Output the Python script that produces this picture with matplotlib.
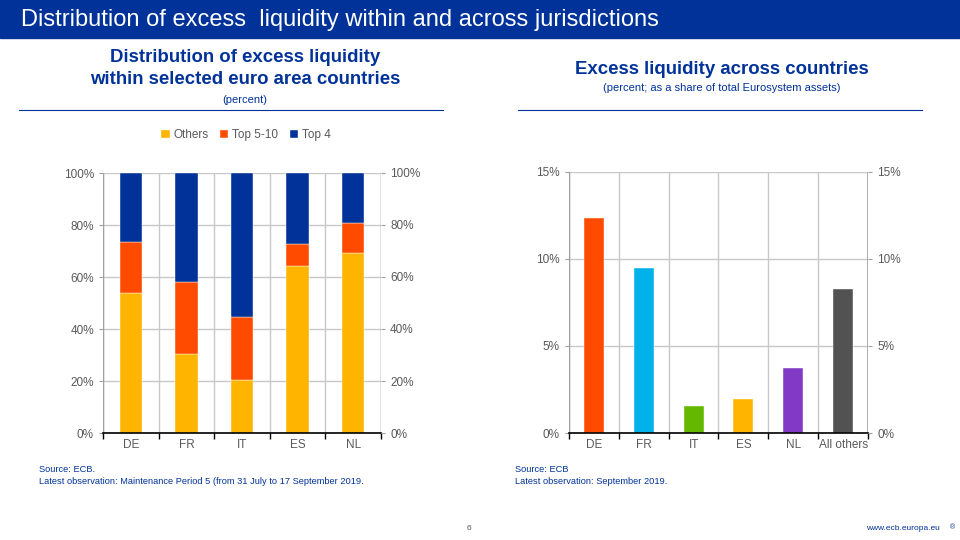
import numpy as np
import matplotlib.pyplot as plt
from matplotlib.ticker import FuncFormatter

# ---------------- data ----------------
paises = ["DE", "FR", "IT", "ES", "NL"]
others = [54.0, 30.4, 20.5, 64.1, 69.4]
top5_10 = [19.5, 27.5, 24.2, 8.6, 11.5]
top4 = [100 - a - b for a, b in zip(others, top5_10)]

paises2 = ["DE", "FR", "IT", "ES", "NL", "All others"]
excesso = [12.35, 9.5, 1.55, 1.97, 3.73, 8.3]
cores2 = ["#FF4B00", "#00B1EA", "#65B800", "#FFB400", "#8139C6", "#525252"]

AZUL = "#003299"
CINZA = "#595959"
GRADE = "#C8C8C8"

plt.rcParams['font.family'] = ['Liberation Sans', 'DejaVu Sans']

fig = plt.figure(figsize=(9.6, 5.4), dpi=100)
W, H = 960, 540

def fx(x): return x / W
def fy(y): return 1 - y / H

# cabeçalho azul
fig.patches.append(plt.Rectangle((0, fy(38)), 1, 38 / H, transform=fig.transFigure,
                                 color=AZUL, zorder=0))
fig.text(fx(21), fy(20), "Distribution of excess  liquidity within and across jurisdictions",
         color="white", fontsize=17, va="center", ha="left")

# títulos
fig.text(fx(245), fy(58), "Distribution of excess liquidity", color=AZUL, fontsize=13.4,
         fontweight="bold", ha="center", va="center")
fig.text(fx(245), fy(80), "within selected euro area countries", color=AZUL, fontsize=13.4,
         fontweight="bold", ha="center", va="center")
fig.text(fx(245), fy(100), "(percent)", color=AZUL, fontsize=8, ha="center", va="center")
fig.add_artist(plt.Line2D([fx(19), fx(443)], [fy(110), fy(110)], color=AZUL, lw=0.8))

fig.text(fx(722), fy(70), "Excess liquidity across countries", color=AZUL, fontsize=13.4,
         fontweight="bold", ha="center", va="center")
fig.text(fx(722), fy(88), "(percent; as a share of total Eurosystem assets)", color=AZUL,
         fontsize=8, ha="center", va="center")
fig.add_artist(plt.Line2D([fx(518), fx(922)], [fy(110), fy(110)], color=AZUL, lw=0.8))

def estilo(ax, n):
    ax.set_xlim(-0.5, n - 0.5)
    for s in ["left", "right", "top"]:
        ax.spines[s].set_visible(False)
    ax.spines["bottom"].set_color("black")
    ax.spines["bottom"].set_linewidth(1.2)
    ax.set_xticks(np.arange(n))
    ax.set_xticks(np.arange(n + 1) - 0.5, minor=True)
    ax.tick_params(axis="x", which="major", length=0, colors=CINZA, labelsize=8.5, pad=4)
    ax.tick_params(axis="x", which="minor", length=4, color="black", width=1)
    ax.tick_params(axis="y", length=3, color="#A0A0A0", colors=CINZA, labelsize=8.5)
    ax.grid(True, which="minor", axis="x", color=GRADE, lw=1)
    ax.grid(True, which="major", axis="y", color=GRADE, lw=1)
    ax.set_axisbelow(True)
    ax2 = ax.twinx()
    ax2.set_ylim(ax.get_ylim())
    ax2.set_yticks(ax.get_yticks())
    ax2.yaxis.set_major_formatter(ax.yaxis.get_major_formatter())
    for s in ["left", "right", "top", "bottom"]:
        ax2.spines[s].set_visible(False)
    ax2.tick_params(axis="y", length=3, color="#A0A0A0", colors=CINZA, labelsize=8.5)
    return ax2

pct = FuncFormatter(lambda v, p: f"{v:.0f}%")

# gráfico esquerdo
ax = fig.add_axes([fx(103), fy(433), (381 - 103) / W, (433 - 173) / H])
x = np.arange(len(paises))
ax.bar(x, others, 0.4, color="#FFB400", label="Others", edgecolor="white", lw=0.3)
ax.bar(x, top5_10, 0.4, bottom=others, color="#FF4B00", label="Top 5-10",
       edgecolor="white", lw=0.3)
ax.bar(x, top4, 0.4, bottom=np.array(others) + np.array(top5_10), color=AZUL, label="Top 4",
       edgecolor="white", lw=0.3)
ax.set_ylim(0, 100)
ax.set_yticks(range(0, 101, 20))
ax.yaxis.set_major_formatter(pct)
ax.set_xticklabels(paises)
ax.axvline(-0.5, color="#A0A0A0", lw=1)
ax.axvline(len(paises) - 0.5, color="#A0A0A0", lw=1)
estilo(ax, len(paises))
ax.legend(loc="center", bbox_to_anchor=(fx(246), fy(135)), bbox_transform=fig.transFigure,
          ncol=3, frameon=False, fontsize=8.5, handlelength=0.7, handleheight=0.7,
          handletextpad=0.3, columnspacing=1.0, labelcolor=CINZA)

# gráfico direito
bx = fig.add_axes([fx(569), fy(433), (868 - 569) / W, (433 - 172) / H])
x2 = np.arange(len(paises2))
bx.bar(x2, excesso, 0.4, color=cores2, edgecolor="white", lw=0.3)
bx.set_ylim(0, 15)
bx.set_yticks([0, 5, 10, 15])
bx.yaxis.set_major_formatter(pct)
bx.set_xticklabels(paises2)
bx.axvline(-0.5, color="#A0A0A0", lw=1)
bx.axvline(len(paises2) - 0.5, color="#A0A0A0", lw=1.2)
estilo(bx, len(paises2))

# notas
fig.text(fx(39), fy(470), "Source: ECB.", color=AZUL, fontsize=6.7, va="center")
fig.text(fx(39), fy(482), "Latest observation: Maintenance Period 5 (from 31 July to 17 September 2019.",
         color=AZUL, fontsize=6.7, va="center")
fig.text(fx(515), fy(470), "Source: ECB", color=AZUL, fontsize=6.7, va="center")
fig.text(fx(515), fy(482), "Latest observation: September 2019.", color=AZUL, fontsize=6.7,
         va="center")
fig.text(fx(469), fy(529), "6", color=CINZA, fontsize=6, ha="center", va="center")
fig.text(fx(940), fy(529), "www.ecb.europa.eu", color=AZUL, fontsize=6, ha="right", va="center")
fig.text(fx(953), fy(528), "\u00ae", color=AZUL, fontsize=5, ha="center", va="center")

fig.savefig("out.png", dpi=100)
